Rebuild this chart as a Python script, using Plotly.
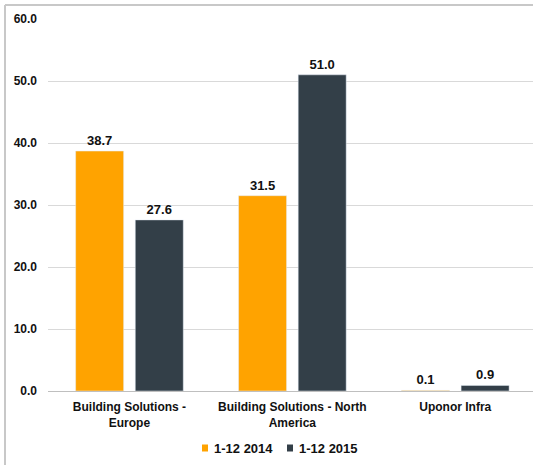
import plotly.graph_objects as go

categories = ["<b>Building Solutions -<br>Europe</b>", "<b>Building Solutions - North<br>America</b>", "<b>Uponor Infra</b>"]
series_names = ["1-12 2014", "1-12 2015"]
values_2014 = [38.7, 31.5, 0.1]
values_2015 = [27.6, 51.0, 0.9]
colors = ["#FFA300", "#333F48"]

W, H = 533, 465
L, R, T, B = 48, 0, 19, 74
pw, ph = W - L - R, H - T - B

fig = go.Figure()
for name, vals, col in zip(series_names, [values_2014, values_2015], colors):
    fig.add_trace(go.Bar(
        x=categories, y=vals, name=name, marker_color=col,
        texttemplate="%{y:.1f}", textposition="outside", cliponaxis=False,
        textfont=dict(size=13, color="#111111", family="Liberation Sans", weight="bold"),
        showlegend=False,
    ))

# custom compact legend (small squares close to text)
legend_y = (391 - 448) / ph
shapes = []
annotations = []
leg_x = [(202 - L) / pw, (287 - L) / pw]
for name, col, lx in zip(series_names, colors, leg_x):
    shapes.append(dict(type="rect", xref="paper", yref="paper",
                       x0=lx, x1=lx + 6 / pw, y0=legend_y - 3.5 / ph, y1=legend_y + 3.5 / ph,
                       fillcolor=col, line=dict(width=0)))
    annotations.append(dict(xref="paper", yref="paper", x=lx + 10 / pw, y=legend_y,
                            xanchor="left", yanchor="middle", showarrow=False,
                            text="<b>" + name + "</b>",
                            font=dict(size=13, family="Liberation Sans", color="#111111")))

shapes += [
    dict(type="line", xref="paper", yref="paper",
         x0=(5 - L) / pw, x1=(5 - L) / pw, y0=1 + (T - 5) / ph, y1=(T - H) / ph,
         line=dict(color="#C8C8C8", width=2)),
    dict(type="line", xref="paper", yref="paper",
         x0=(5 - L) / pw, x1=1.01, y0=1 + (T - 5) / ph, y1=1 + (T - 5) / ph,
         line=dict(color="#C8C8C8", width=2)),
]

fig.update_layout(
    width=W, height=H,
    margin=dict(l=L, r=R, t=T, b=B),
    paper_bgcolor="white", plot_bgcolor="white",
    barmode="group", bargap=0.268, bargroupgap=0.195,
    font=dict(family="Liberation Sans", size=11, color="#111111"),
    showlegend=False,
    yaxis=dict(range=[0, 60], dtick=10, tickformat=".1f", showgrid=True,
               gridcolor="#D9D9D9", gridwidth=1, zeroline=True, zerolinecolor="#BFBFBF",
               zerolinewidth=1, showline=False, ticks="", ticklabelstandoff=10,
               tickfont=dict(size=12, family="Liberation Sans", weight="bold")),
    xaxis=dict(range=[-0.5, 2.477], showline=False, ticks="", ticklabelstandoff=7,
               tickfont=dict(size=12, family="Liberation Sans"), showgrid=False),
    shapes=shapes,
    annotations=annotations,
)
fig.write_html("out.html")
